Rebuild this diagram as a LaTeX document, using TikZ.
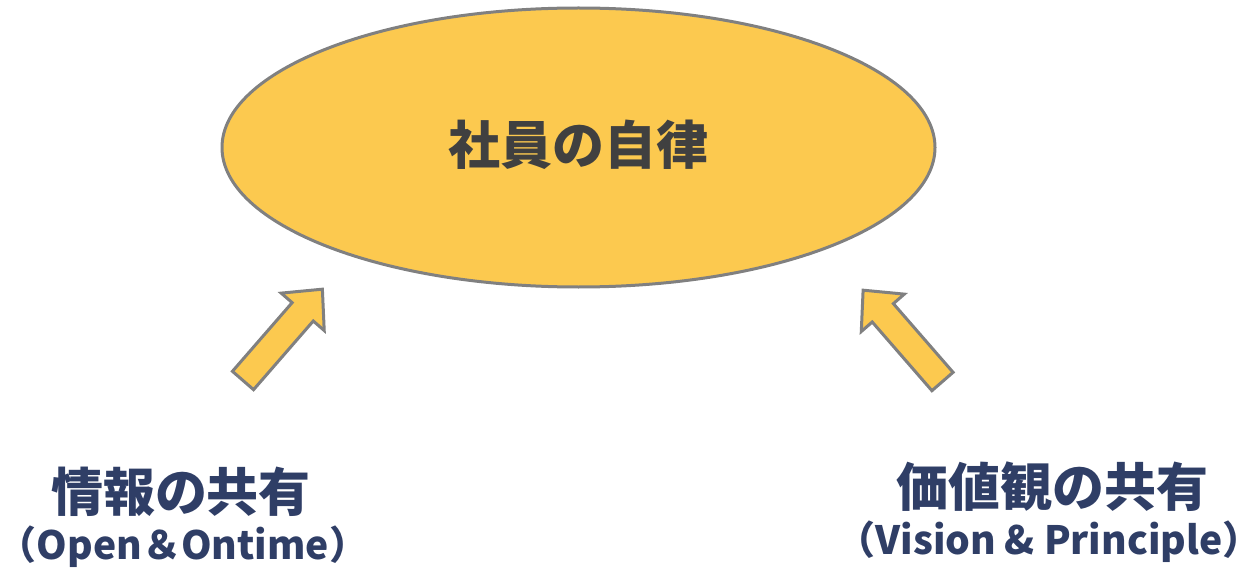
\documentclass[tikz,border=0pt]{standalone}
\usepackage{fontspec}
\usetikzlibrary{shapes.geometric}
\setmainfont{Noto Sans CJK JP}
\definecolor{ellfill}{HTML}{FCC94F}
\definecolor{edgegray}{HTML}{808080}
\definecolor{navy}{HTML}{2F3E66}
\definecolor{darktext}{HTML}{404040}
\tikzset{
  blockarrow/.style={fill=ellfill, draw=edgegray, line width=3pt, line join=miter},
  bigtitle/.style={font=\fontsize{52}{56}\selectfont\bfseries, text=darktext},
  labeltitle/.style={font=\fontsize{52}{56}\selectfont\bfseries, text=navy, inner sep=0pt},
  labelsub/.style={font=\fontsize{39}{42}\selectfont\bfseries, text=navy, inner sep=0pt}
}
\begin{document}
\begin{tikzpicture}[x=1pt,y=-1pt]
\useasboundingbox (0,0) rectangle (1259,575);
\node[ellipse, draw=edgegray, fill=ellfill, line width=3pt, minimum width=713, minimum height=279, inner sep=0pt] (goal) at (578.5,147.5) {};
\node[bigtitle] (goaltext) at (578.5,145) {社員の自律};
% left arrow
\begin{scope}[shift={(243,380.5)}, rotate=49]
\draw[blockarrow] (0,-14) -- (91,-14) -- (91,-28.5) -- (121,0) -- (91,28.5) -- (91,14) -- (0,14) -- cycle;
\end{scope}
% right arrow
\begin{scope}[shift={(942.5,381.5)}, rotate=131]
\draw[blockarrow] (0,-14) -- (91,-14) -- (91,-28.5) -- (121,0) -- (91,28.5) -- (91,14) -- (0,14) -- cycle;
\end{scope}
\node[labeltitle] (info) at (181,492) {情報の共有};
\node[labelsub] (infosub) at (183,547) {（Open＆Ontime）};
\node[labeltitle] (value) at (1052,487) {価値観の共有};
\node[labelsub] (valuesub) at (1049,542) {（Vision \& Principle）};
\end{tikzpicture}
\end{document}
